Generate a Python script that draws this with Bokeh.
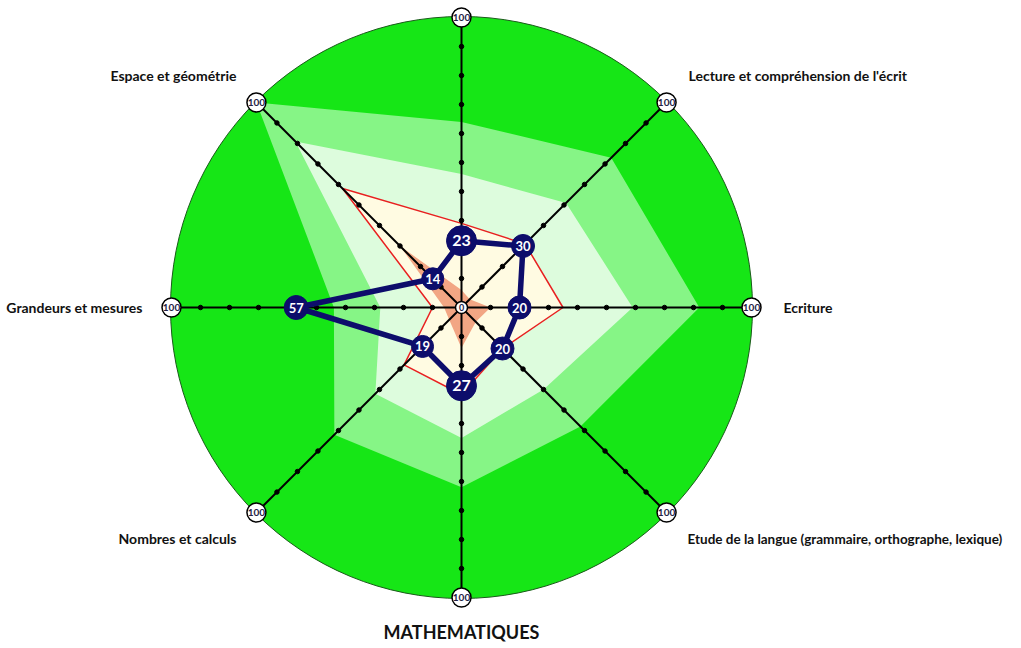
import numpy as np
from bokeh.plotting import figure
from bokeh.models import Range1d, ColumnDataSource
from bokeh.core.properties import value
from bokeh.embed import file_html
from bokeh.resources import INLINE

# ---- data ----
axis_labels = ["", "Lecture et compréhension de l'écrit", "Ecriture",
               "Etude de la langue (grammaire, orthographe, lexique)", "MATHEMATIQUES",
               "Nombres et calculs", "Grandeurs et mesures", "Espace et géométrie"]
scores = [23, 30, 20, 20, 27, 19, 57, 14]
band_outer = [64, 73, 82, 58, 62, 62, 44, 100]
band_mid = [46, 51, 59, 40, 45, 42, 28, 81]
band_inner = [29, 31, 35, 20, 30, 28, 10, 58]
band_core = [6, 4, 10, 7, 14, 6, 6, 30]
tick_values = [10, 20, 30, 40, 50, 60, 70, 80, 90]
max_value = 100

W, H = 1013, 646
CX, CY = 461, 307          # centre in pixels (from top-left of plot)
R = 290.0                  # pixel radius for max_value
S = R / max_value
FONT = value("Lato")

p = figure(width=W, height=H, output_backend="svg", toolbar_location=None,
           x_range=Range1d(-CX, W - CX), y_range=Range1d(-(H - CY), CY),
           x_axis_location=None, y_axis_location=None, min_border=0,
           outline_line_color=None, match_aspect=False)
p.grid.visible = False
p.background_fill_color = "white"

n = len(axis_labels)
ang = np.radians(90 - 45 * np.arange(n))
cosA, sinA = np.cos(ang), np.sin(ang)

def pts(vals):
    v = np.asarray(vals, dtype=float) * S
    return list(v * cosA), list(v * sinA)

# background circle
p.circle(x=[0], y=[0], radius=R + 1, fill_color="#16e616", line_color="#1a5a1a", line_width=1)

for vals, fc, lc, lw in [(band_outer, "#86f586", None, 0),
                         (band_mid, "#ddfcdd", None, 0),
                         (band_inner, "#fffbe2", "#e82020", 1.5),
                         (band_core, "#f2a684", None, 0)]:
    xs, ys = pts(vals)
    p.patch(xs, ys, fill_color=fc, line_color=lc, line_width=lw if lc else 0, line_alpha=1 if lc else 0)

# axes
for i in range(n):
    p.line([0, R * cosA[i]], [0, R * sinA[i]], line_color="black", line_width=2)
tx, ty = [], []
for i in range(n):
    for t in tick_values:
        tx.append(t * S * cosA[i]); ty.append(t * S * sinA[i])
p.scatter(tx, ty, size=4.5, fill_color="black", line_color="black")

# data polygon
dx, dy = pts(scores)
p.patch(dx, dy, fill_alpha=0, line_color="#0d0d6b", line_width=5.5, line_join="round")

sizes = [30, 23, 23, 23, 30, 22, 24, 22]
fsz = ["16px", "13px", "13px", "13px", "16px", "13px", "13px", "13px"]
src = ColumnDataSource(dict(x=dx, y=dy, size=sizes, t=[str(v) for v in scores], fs=fsz))
p.scatter("x", "y", size="size", source=src, fill_color="#0d0d6b", line_color="#0d0d6b")
p.text("x", "y", text="t", source=src, text_color="white", text_font=FONT,
       text_font_style="bold", text_font_size="fs", text_align="center", text_baseline="middle")

# centre and end markers
p.scatter([0], [0], size=12, fill_color="white", line_color="black", line_width=1.5)
p.text([0], [0], text=["0"], text_color="#222244", text_font=FONT,
       text_font_style="bold", text_font_size="9px", text_align="center", text_baseline="middle")
ex, ey = list(R * cosA), list(R * sinA)
p.scatter(ex, ey, size=19, fill_color="white", line_color="black", line_width=1.5)
p.text(ex, ey, text=["100"] * n, text_color="#222244", text_font=FONT,
       text_font_style="bold", text_font_size="10px", text_align="center", text_baseline="middle")

# axis labels (positions in pixels relative to centre)
lab_pos = [(0, 0, "center"), (227, 232, "left"), (322, 0, "left"), (226, -231, "left"),
           (0, -324, "center"), (-225, -231, "right"), (-319, 0, "right"), (-225, 232, "right")]
lab_size = ["14px", "14px", "14px", "13.5px", "18px", "14px", "14px", "14px"]
for i, lab in enumerate(axis_labels):
    if not lab:
        continue
    x, y, al = lab_pos[i]
    p.text([x], [y], text=[lab], text_color="#111111", text_font=FONT,
           text_font_style="bold", text_font_size=lab_size[i],
           text_align=al, text_baseline="middle")

open("out.html", "w").write(file_html(p, INLINE))
